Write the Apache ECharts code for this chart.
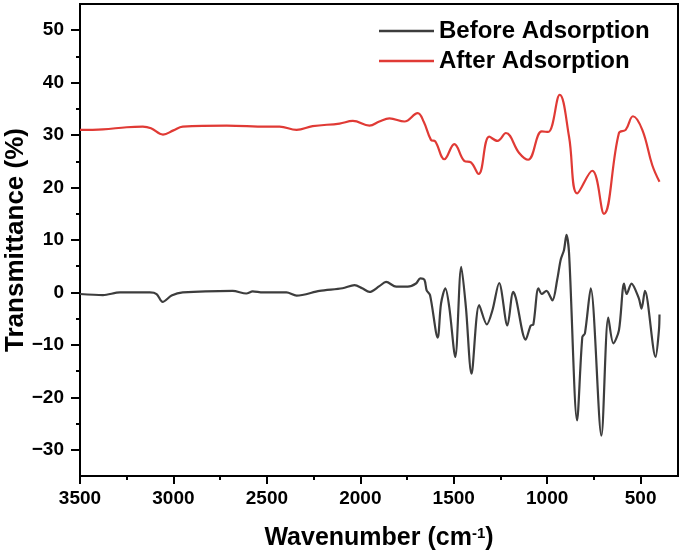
<!DOCTYPE html>
<html>
<head>
<meta charset="utf-8">
<script src="https://cdn.jsdelivr.net/npm/echarts@6/dist/echarts.min.js"></script>
<style>html,body{margin:0;padding:0;background:#fff}#c{width:685px;height:558px}</style>
</head>
<body>
<div id="c"></div>
<script>
// Before Adsorption (wavenumber, transmittance)
var wnBefore = [3500,3377,3286,3126,3090,3058,3010,2950,2683,2610,2576,2522,2395,2341,2218,2095,2031,1990,1951,1898,1862,1808,1746,1702,1679,1657,1645,1627,1586,1568,1545,1524,1492,1460,1435,1405,1364,1323,1293,1257,1213,1182,1168,1115,1088,1074,1047,1029,1004,972,946,928,910,897,883,840,812,798,767,710,673,646,616,589,575,549,510,495,477,420,402,399];
var tBefore = [-0.3,-0.5,0.0,0.0,-0.3,-1.8,-0.6,0.0,0.3,-0.2,0.2,0.0,0.0,-0.6,0.3,0.8,1.4,0.8,0.1,1.2,2.0,1.1,1.1,1.7,2.7,2.4,0.4,-0.5,-8.6,-2.1,0.8,-2.8,-12.3,4.9,-2.8,-15.5,-2.4,-6.1,-3.4,1.8,-6.3,0.1,-1.0,-9.0,-6.3,-6.1,0.8,-0.3,0.3,-1.5,2.5,6.2,8.1,11.0,7.5,-24.4,-8.5,-7.8,0.8,-27.3,-4.8,-9.7,-7.2,1.7,-0.3,1.7,-1.1,-3.1,0.3,-12.3,-7.2,-4.2];
// After Adsorption
var wnAfter = [3500,3377,3250,3164,3120,3056,3000,2950,2715,2500,2432,2341,2255,2111,2040,1951,1898,1844,1764,1693,1660,1622,1599,1550,1497,1444,1408,1367,1310,1266,1221,1150,1102,1029,995,933,883,839,759,696,616,580,541,491,438,399];
var tAfter = [31.0,31.1,31.5,31.6,31.3,30.1,30.9,31.6,31.8,31.6,31.6,31.0,31.7,32.2,32.7,31.8,32.6,33.2,32.6,34.2,32.5,29.1,28.8,25.4,28.3,25.1,24.8,22.6,29.7,28.9,30.4,26.6,25.3,30.7,30.6,37.7,29.7,18.9,23.2,15.0,30.4,31.0,33.6,31.0,24.3,21.1];
var xMajor = [500,1000,1500,2000,2500,3000,3500];
var xMinor = [750,1250,1750,2250,2750,3250];
var yMajor = [-30,-20,-10,0,10,20,30,40,50];
var yMinor = [-25,-15,-5,5,15,25,35,45];
var seriesNames = ['Before Adsorption','After Adsorption'];

function zip(a,b){return a.map(function(v,i){return [v,b[i]];});}
var FONT = 'Liberation Sans, Arial, sans-serif';
var chart = echarts.init(document.getElementById('c'), null, {renderer:'canvas'});
var axisLineStyle = {color:'#000', width:2};
var legendText = {fontFamily:FONT, fontWeight:'bold', fontSize:24, color:'#000'};
chart.setOption({
  animation:false,
  backgroundColor:'#fff',
  grid:{left:80, right:7, top:4, bottom:82, show:true, borderColor:'#000', borderWidth:2, backgroundColor:'transparent', outerBoundsMode:'none', containLabel:false},
  legend:[{
    data:[{name:seriesNames[0], icon:'rect'}], left:379, top:19, padding:0, itemWidth:55, itemHeight:2.5, itemGap:7,
    textStyle:legendText
  },{
    data:[{name:seriesNames[1], icon:'rect'}], left:379, top:49, padding:0, itemWidth:55, itemHeight:2.5, itemGap:7,
    textStyle:legendText
  }],
  xAxis:[{
    type:'value', min:300, max:3500, inverse:true, position:'bottom',
    name:'Wavenumber (cm{sup|-1})', nameLocation:'middle', nameGap:50, nameMoveOverlap:false,
    nameTextStyle:{fontFamily:FONT, fontWeight:'bold', fontSize:25, color:'#000',
      rich:{sup:{fontFamily:FONT, fontWeight:'bold', fontSize:15, color:'#000', verticalAlign:'top', padding:[0,0,10,0]}}},
    axisLine:{show:true, onZero:false, lineStyle:axisLineStyle},
    axisTick:{show:true, length:8, lineStyle:{color:'#000', width:2}, customValues:xMajor},
    axisLabel:{customValues:xMajor, margin:13, fontFamily:FONT, fontWeight:'bold', fontSize:19, color:'#000',
      formatter:function(v){return String(v);}},
    splitLine:{show:false}
  },{
    type:'value', min:300, max:3500, inverse:true, position:'bottom',
    axisLine:{show:false, onZero:false},
    axisTick:{show:true, length:4, lineStyle:{color:'#000', width:2}, customValues:xMinor},
    axisLabel:{show:false, customValues:xMinor},
    splitLine:{show:false}
  }],
  yAxis:[{
    type:'value', min:-35, max:55, position:'left',
    name:'Transmittance (%)', nameLocation:'middle', nameGap:51, nameRotate:90, nameMoveOverlap:false,
    nameTextStyle:{fontFamily:FONT, fontWeight:'bold', fontSize:26, color:'#000'},
    axisLine:{show:true, onZero:false, lineStyle:axisLineStyle},
    axisTick:{show:true, length:9, lineStyle:{color:'#000', width:2}, customValues:yMajor},
    axisLabel:{customValues:yMajor, margin:16, fontFamily:FONT, fontWeight:'bold', fontSize:19, color:'#000',
      formatter:function(v){return v<0 ? '\u2212'+Math.abs(v) : String(v);}},
    splitLine:{show:false}
  },{
    type:'value', min:-35, max:55, position:'left',
    axisLine:{show:false, onZero:false},
    axisTick:{show:true, length:4, lineStyle:{color:'#000', width:2}, customValues:yMinor},
    axisLabel:{show:false, customValues:yMinor},
    splitLine:{show:false}
  }],
  series:[{
    name:seriesNames[0], type:'line', xAxisIndex:0, yAxisIndex:0,
    data:zip(wnBefore,tBefore), showSymbol:false, symbol:'none', smooth:0.3,
    lineStyle:{color:'#3d3d3d', width:2.2}, itemStyle:{color:'#3d3d3d'}
  },{
    name:seriesNames[1], type:'line', xAxisIndex:0, yAxisIndex:0,
    data:zip(wnAfter,tAfter), showSymbol:false, symbol:'none', smooth:0.4,
    lineStyle:{color:'#e03a35', width:2.2}, itemStyle:{color:'#e03a35'}
  }]
});
</script>
</body>
</html>
